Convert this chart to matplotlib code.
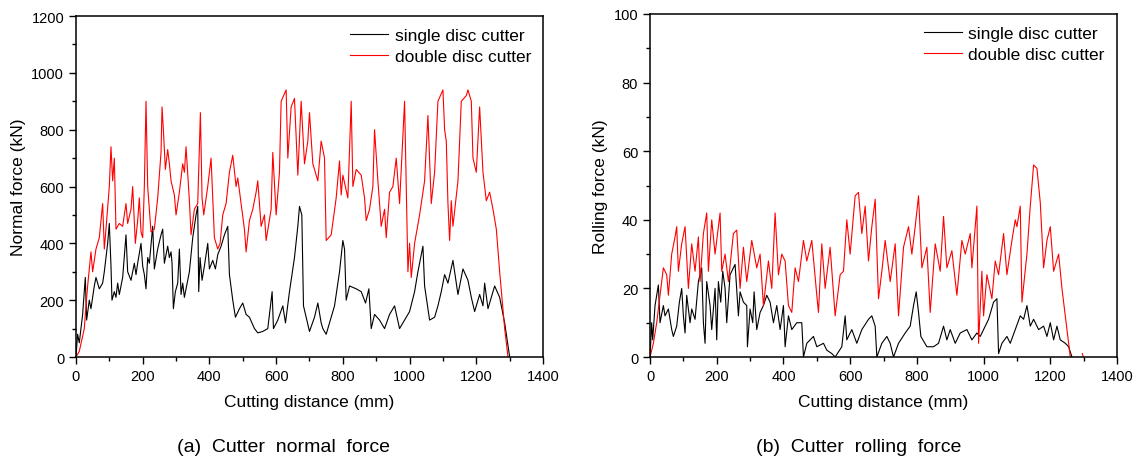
import numpy as np
import matplotlib
matplotlib.use("Agg")
import matplotlib.pyplot as plt
from matplotlib.ticker import MultipleLocator

plt.rcParams['font.family'] = ['Liberation Sans', 'DejaVu Sans']

# ---- (a) normal force ----
normal_single_x = [0, 5, 10, 20, 28, 32, 40, 45, 55, 60, 70, 80, 85, 95, 100, 105, 108, 115, 120, 125,
                   130, 140, 150, 155, 165, 175, 180, 185, 195, 200, 205, 210, 215, 220, 230, 235, 245, 255,
                   260, 265, 275, 280, 285, 288, 292, 298, 305, 310, 315, 320, 325, 330, 340, 350, 360, 365,
                   368, 372, 378, 385, 395, 400, 410, 418, 425, 435, 445, 455, 460, 470, 478, 490, 500, 510,
                   520, 535, 545, 560, 575, 588, 592, 605, 620, 628, 640, 655, 665, 670, 677, 682, 690, 700,
                   715, 725, 735, 740, 750, 760, 775, 790, 800, 805, 810, 820, 840, 855, 868, 878, 885, 895,
                   910, 925, 940, 955, 970, 985, 1000, 1015, 1025, 1040, 1045, 1060, 1075, 1085, 1095, 1105,
                   1115, 1130, 1145, 1160, 1175, 1185, 1195, 1210, 1220, 1225, 1235, 1255, 1270, 1285, 1300]
normal_single_y = [0, 80, 50, 150, 280, 130, 200, 170, 250, 280, 240, 260, 300, 400, 470, 320, 200, 230, 210, 260,
                   220, 280, 430, 300, 270, 330, 290, 330, 400, 320, 290, 240, 350, 330, 460, 310, 380, 430,
                   450, 330, 390, 350, 370, 330, 170, 230, 260, 380, 220, 260, 210, 240, 300, 420, 500, 530,
                   230, 350, 270, 320, 400, 310, 340, 310, 360, 390, 430, 460, 290, 200, 140, 170, 190, 150,
                   140, 100, 85, 90, 100, 230, 100, 130, 180, 120, 230, 350, 460, 530, 500, 180, 140, 90,
                   140, 190, 120, 100, 80, 120, 180, 300, 410, 380, 200, 250, 240, 230, 190, 240, 100, 150,
                   130, 100, 150, 180, 100, 130, 160, 230, 300, 390, 250, 130, 140, 180, 230, 290,
                   260, 340, 220, 310, 270, 210, 160, 220, 180, 260, 170, 250, 210, 120, 0]

normal_double_x = [0, 10, 25, 30, 35, 45, 50, 60, 70, 80, 85, 90, 100, 105, 110, 115, 120, 130, 140, 150, 155,
                   165, 170, 178, 185, 190, 195, 200, 205, 210, 215, 225, 235, 245, 255, 258, 262, 268, 275,
                   280, 285, 295, 300, 310, 320, 325, 330, 340, 345, 355, 365, 373, 378, 383, 395, 405, 415,
                   425, 432, 440, 450, 460, 470, 480, 485, 495, 505, 510, 520, 530, 540, 545, 555, 565, 570,
                   585, 590, 600, 610, 615, 630, 635, 645, 655, 665, 675, 685, 695, 700, 710, 725, 735, 745,
                   750, 765, 780, 790, 795, 800, 815, 825, 830, 840, 855, 865, 870, 880, 890, 895, 905, 915,
                   925, 930, 940, 950, 960, 970, 985, 990, 995, 1000, 1005, 1015, 1030, 1045, 1055, 1065,
                   1075, 1085, 1100, 1105, 1110, 1115, 1120, 1125, 1130, 1145, 1155, 1170, 1175, 1185, 1190,
                   1200, 1210, 1220, 1230, 1240, 1250, 1260, 1270, 1285, 1295]
normal_double_y = [0, 20, 100, 180, 250, 370, 300, 380, 420, 540, 380, 450, 600, 740, 620, 700, 450, 470, 460, 540, 470,
                   520, 600, 400, 480, 560, 440, 420, 600, 900, 600, 440, 450, 560, 720, 880, 800, 660, 730,
                   680, 620, 570, 500, 580, 680, 650, 740, 550, 430, 520, 540, 860, 560, 500, 600, 700, 420,
                   380, 400, 500, 540, 650, 710, 600, 630, 540, 450, 370, 480, 520, 580, 620, 460, 500, 410,
                   520, 720, 500, 650, 900, 940, 700, 880, 910, 640, 900, 680, 760, 860, 680, 620, 760, 700,
                   410, 430, 560, 690, 570, 640, 560, 900, 600, 660, 640, 560, 480, 520, 600, 800, 620, 460,
                   520, 420, 580, 600, 700, 540, 900, 600, 300, 400, 280, 400, 500, 620, 850, 540,
                   650, 900, 940, 800, 760, 540, 410, 550, 460, 620, 900, 920, 940, 900, 700,
                   650, 880, 650, 550, 580, 520, 450, 300, 100, 0]

# ---- (b) rolling force ----
rolling_single_x = [0, 5, 8, 15, 25, 30, 40, 45, 55, 65, 70, 80, 88, 95, 100, 105, 110, 120, 125, 135, 145,
                    155, 160, 165, 170, 180, 185, 195, 200, 205, 212, 218, 225, 230, 240, 255, 265, 270, 280,
                    290, 292, 300, 308, 312, 320, 330, 340, 350, 360, 370, 380, 390, 400, 405, 415, 425, 440,
                    455, 460, 470, 490, 500, 520, 530, 545, 555, 575, 585, 590, 605, 620, 635, 655, 665, 675,
                    680, 695, 710, 720, 730, 745, 765, 780, 790, 798, 805, 812, 830, 850, 865, 880, 890, 900,
                    915, 930, 950, 965, 980, 990, 1005, 1015, 1030, 1040, 1045, 1055, 1070, 1080, 1095, 1110,
                    1120, 1130, 1140, 1150, 1165, 1180, 1190, 1200, 1210, 1220, 1230, 1245, 1255, 1265]
rolling_single_y = [0, 10, 5, 15, 21, 10, 15, 12, 14, 8, 6, 9, 16, 20, 12, 7, 18, 10, 14, 11, 22,
                    26, 10, 4, 22, 15, 8, 20, 5, 22, 16, 25, 20, 10, 24, 27, 12, 19, 16,
                    15, 3, 14, 10, 19, 8, 13, 15, 18, 16, 10, 15, 8, 15, 3, 12, 8, 10,
                    10, 0, 4, 6, 3, 4, 2, 1, 0, 3, 12, 5, 8, 4, 8, 11, 12, 9,
                    0, 4, 6, 4, 0, 4, 7, 9, 15, 19, 13, 6, 3, 3, 4, 9, 5, 8,
                    4, 7, 8, 5, 7, 6, 9, 11, 16, 17, 1, 4, 6, 4, 8, 12,
                    11, 15, 9, 11, 8, 9, 6, 10, 5, 9, 5, 4, 3, 0]

rolling_double_x = [0, 10, 20, 30, 40, 50, 55, 65, 75, 80, 85, 95, 105, 115, 125, 135, 145, 150, 160, 170,
                    175, 185, 195, 210, 215, 225, 235, 250, 260, 270, 280, 290, 305, 320, 330, 340, 355, 365,
                    375, 385, 395, 405, 415, 425, 435, 445, 460, 470, 485, 500, 505, 515, 525, 540, 555, 570,
                    580, 590, 600, 615, 625, 635, 645, 655, 665, 675, 685, 695, 705, 720, 735, 745, 760, 775,
                    785, 795, 805, 815, 830, 840, 855, 870, 880, 890, 905, 920, 935, 945, 960, 965, 980, 985,
                    995, 1000, 1010, 1025, 1035, 1045, 1060, 1070, 1085, 1095, 1100, 1110, 1115, 1130, 1140,
                    1150, 1160, 1170, 1180, 1190, 1200, 1210, 1225, 1235, 1245, 1260, 1290, 1296, 1299]
rolling_double_y = [0, 4, 10, 18, 26, 24, 18, 30, 35, 38, 25, 33, 38, 20, 33, 25, 35, 22, 36, 42,
                    25, 40, 30, 42, 25, 30, 22, 36, 37, 20, 32, 22, 34, 26, 30, 15, 28, 20,
                    42, 24, 30, 28, 15, 13, 26, 22, 34, 28, 34, 18, 13, 33, 20, 32, 12, 24,
                    25, 40, 30, 47, 48, 36, 44, 28, 38, 46, 17, 25, 34, 22, 33, 12, 32, 38,
                    30, 38, 47, 26, 32, 13, 33, 25, 41, 26, 31, 18, 34, 30, 36, 26, 44, 4,
                    25, 12, 24, 17, 28, 24, 36, 24, 34, 40, 38, 44, 16, 30, 44,
                    56, 55, 45, 26, 34, 38, 25, 30, 20, 12, 0, np.nan, 1, 0]

x_ticks = [0, 200, 400, 600, 800, 1000, 1200, 1400]
normal_ticks = [0, 200, 400, 600, 800, 1000, 1200]
rolling_ticks = [0, 20, 40, 60, 80, 100]
series_labels = ['single disc cutter', 'double disc cutter']

fig = plt.figure(figsize=(11.37, 4.60), dpi=100)
ax1 = fig.add_axes([0.0668, 0.2217, 0.4108, 0.7413])
ax2 = fig.add_axes([0.5717, 0.2217, 0.4107, 0.7457])


def style(ax, yticks, yminor, ylabel):
    ax.set_xlim(0, 1400)
    ax.set_ylim(yticks[0], yticks[-1])
    ax.set_xticks(x_ticks)
    ax.set_yticks(yticks)
    ax.xaxis.set_minor_locator(MultipleLocator(100))
    ax.yaxis.set_minor_locator(MultipleLocator(yminor))
    ax.tick_params(which='major', direction='out', length=5, width=1, labelsize=10.5,
                   top=False, right=False)
    ax.tick_params(which='minor', direction='out', length=3, width=1, top=False, right=False)
    for s in ax.spines.values():
        s.set_linewidth(1.1)
    ax.set_xlabel('Cutting distance (mm)', fontsize=12.5, labelpad=8)
    ax.set_ylabel(ylabel, fontsize=12.5, labelpad=4)
    leg = ax.legend(loc='upper right', frameon=False, fontsize=12.5, handlelength=2.2,
                    handletextpad=0.35, borderaxespad=0.3, labelspacing=0.3)
    return leg


ax1.plot(normal_single_x, normal_single_y, color='black', lw=0.8, label=series_labels[0])
ax1.plot(normal_double_x, normal_double_y, color='red', lw=0.8, label=series_labels[1])
style(ax1, normal_ticks, 100, 'Normal force (kN)')

ax2.plot(rolling_single_x, rolling_single_y, color='black', lw=0.8, label=series_labels[0])
ax2.plot(rolling_double_x, rolling_double_y, color='red', lw=0.8, label=series_labels[1])
style(ax2, rolling_ticks, 10, 'Rolling force (kN)')

fig.text(0.2497, 0.027, '(a)  Cutter  normal  force', ha='center', va='center', fontsize=14)
fig.text(0.7555, 0.027, '(b)  Cutter  rolling  force', ha='center', va='center', fontsize=14)

fig.savefig('out.png', dpi=100)
